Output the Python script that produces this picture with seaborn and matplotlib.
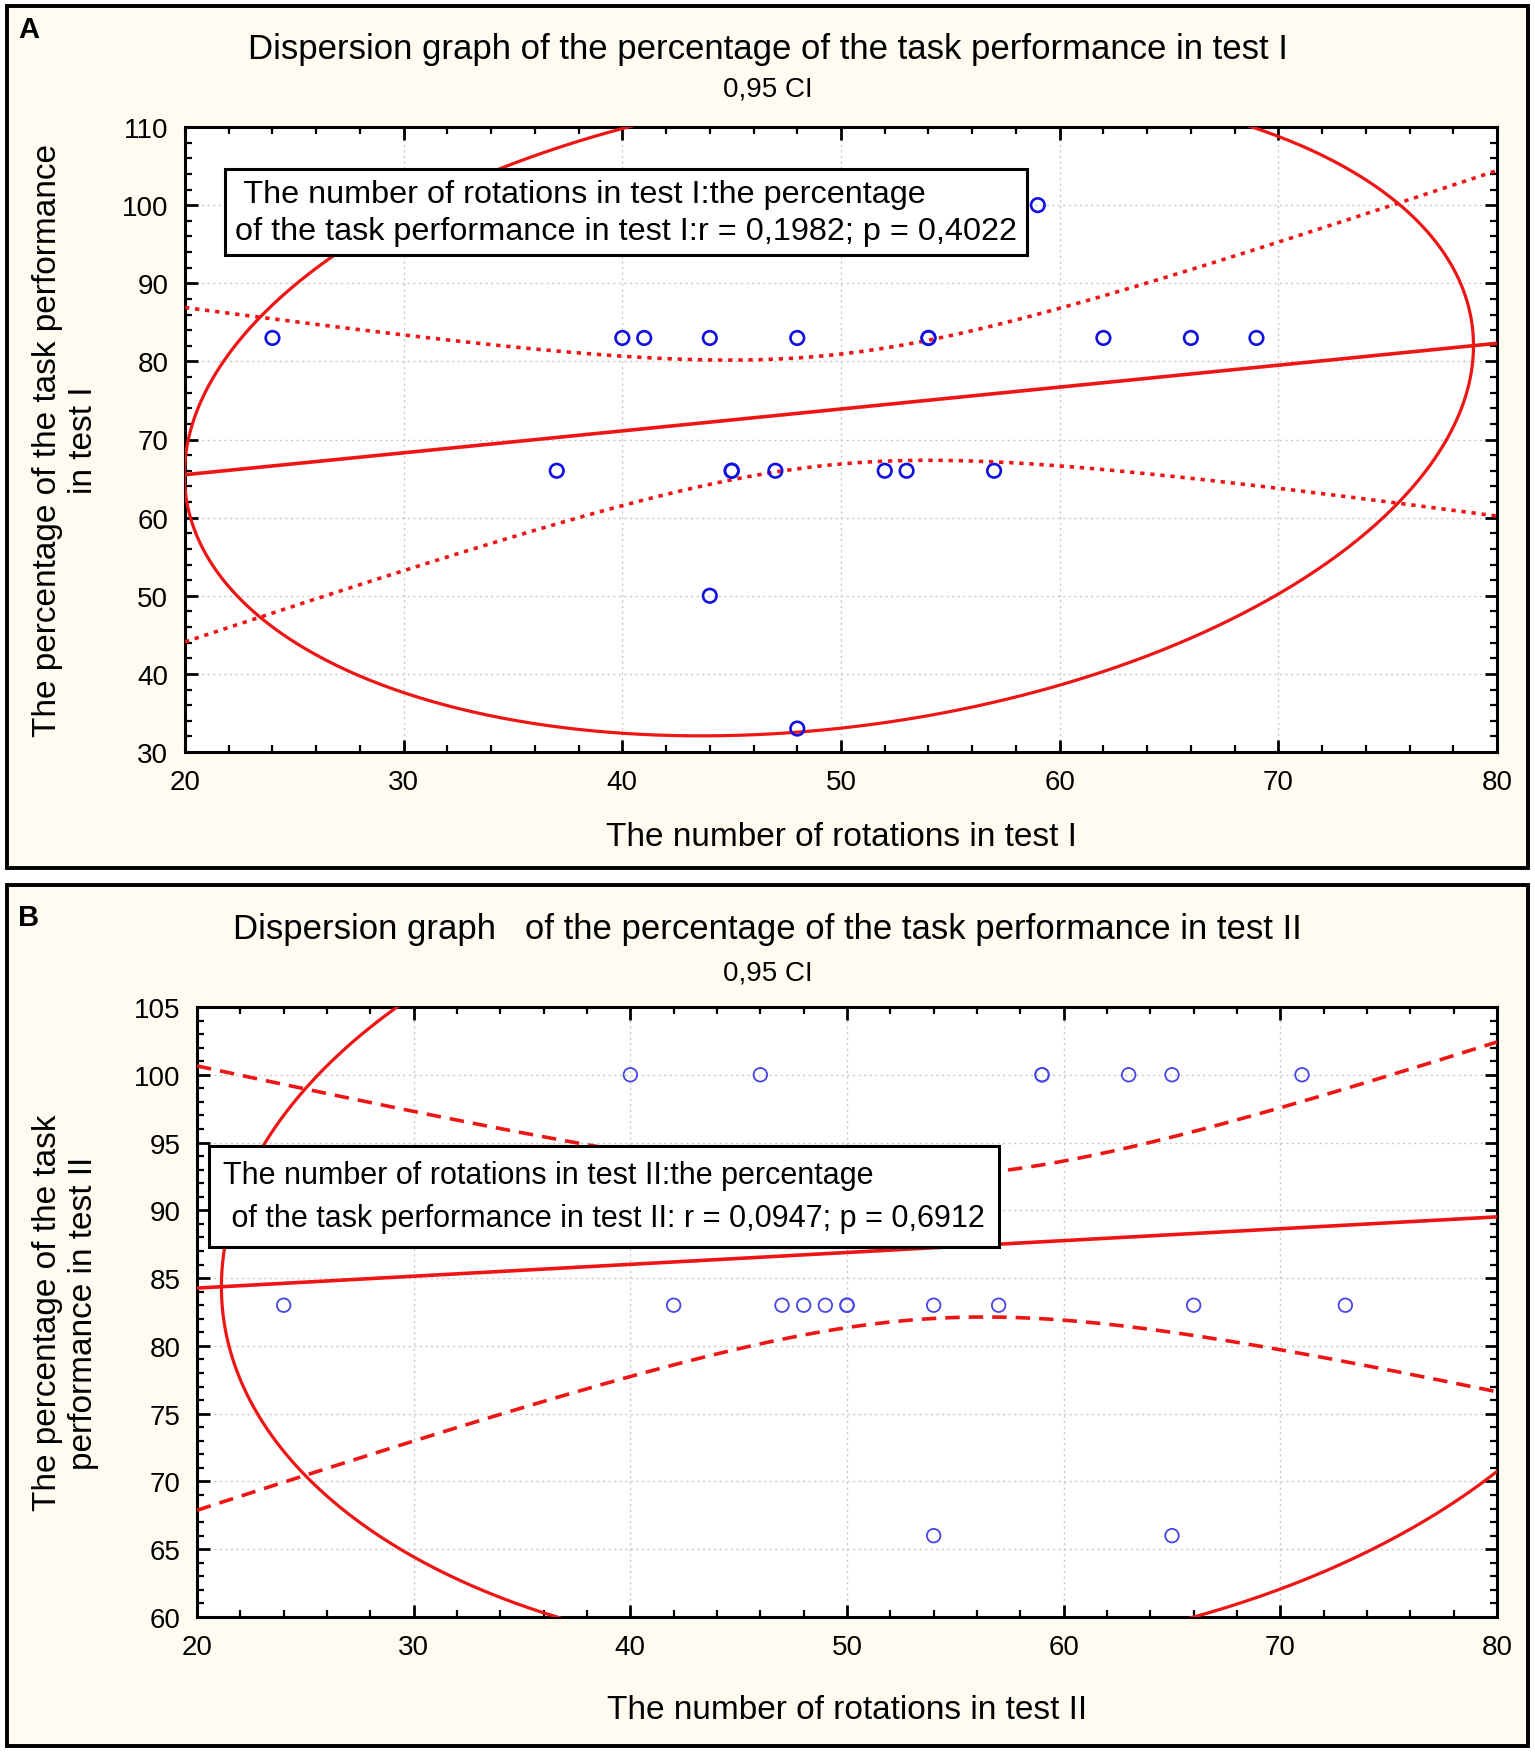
import numpy as np
import pandas as pd
import matplotlib
matplotlib.use("Agg")
import matplotlib.pyplot as plt
from matplotlib.patches import Rectangle
from matplotlib.ticker import MultipleLocator, AutoMinorLocator
import seaborn as sns

# ---------------- data ----------------
# Panel A: test I
rot_test1 = [24, 37, 40, 41, 44, 44, 45, 45, 47, 48, 48, 52, 53, 54, 54, 57, 59, 62, 66, 69]
perf_test1 = [83, 66, 83, 83, 83, 50, 66, 66, 66, 83,
              33, 66, 66, 83, 83, 66, 100, 83, 83, 83]
# Panel B: test II
rot_test2 = [24, 40, 42, 46, 47, 48, 49, 50, 50, 54, 54, 57, 59, 59, 63, 65, 65, 66, 71, 73]
perf_test2 = [83, 100, 83, 100, 83, 83, 83, 83, 83, 83,
              66, 83, 100, 100, 100, 100, 66, 83, 100, 83]

titles = ["Dispersion graph of the percentage of the task performance in test I",
          "Dispersion graph   of the percentage of the task performance in test II"]
subtitle = "0,95 CI"
xlabels = ["The number of rotations in test I", "The number of rotations in test II"]
ylabels = ["The percentage of the task performance\nin test I",
           "The percentage of the task\nperformance in test II"]
box_texts = [" The number of rotations in test I:the percentage\nof the task performance in test I:r = 0,1982; p = 0,4022",
             "The number of rotations in test II:the percentage\n of the task performance in test II: r = 0,0947; p = 0,6912"]
panel_letters = ["A", "B"]
xlims = (20, 80)
ylims = [(30, 110), (60, 105)]
ysteps = [10, 5]

# ---------------- style ----------------
sns.set_style("ticks")
plt.rcParams['font.family'] = ['Liberation Sans', 'DejaVu Sans']
for k in ["text.color", "axes.labelcolor", "xtick.color", "ytick.color", "axes.edgecolor"]:
    plt.rcParams[k] = "black"

RED = "#EE1515"
BG = "#FEFBF0"
W, H = 1535, 1756
fig = plt.figure(figsize=(W / 100, H / 100), dpi=100, facecolor="white")


def px_box(x0, y0, x1, y1):
    return (x0 / W, 1 - y1 / H, (x1 - x0) / W, (y1 - y0) / H)


# outer panel frames
for (x0, y0, x1, y1) in [(7, 7, 1528, 869), (7, 886, 1528, 1747)]:
    l, b, w, h = px_box(x0, y0, x1, y1)
    fig.patches.append(Rectangle((l, b), w, h, transform=fig.transFigure,
                                 fc=BG, ec="black", lw=2.8, zorder=-10))


def t_ppf(p, df):
    xs = np.linspace(0, 20, 400001)
    from math import gamma, sqrt, pi
    c = gamma((df + 1) / 2) / (sqrt(df * pi) * gamma(df / 2))
    pdf = c * (1 + xs ** 2 / df) ** (-(df + 1) / 2)
    cdf = 0.5 + np.concatenate([[0], np.cumsum((pdf[1:] + pdf[:-1]) / 2 * np.diff(xs))])
    return float(np.interp(p, cdf, xs))


def draw_panel(ax, xv, yv, ylim, ystep, band_ls, band_dashes, marker_lw, marker_col):
    df = pd.DataFrame({"x": np.asarray(xv, float), "y": np.asarray(yv, float)})
    n = len(df)
    ax.set_xlim(*xlims)
    ax.set_ylim(*ylim)

    # regression line (seaborn)
    sns.regplot(data=df, x="x", y="y", ax=ax, scatter=False, ci=None, truncate=False,
                line_kws=dict(color=RED, lw=2.6, zorder=3))

    # 95% confidence band of the regression line
    x = df["x"].values
    y = df["y"].values
    mx, my = x.mean(), y.mean()
    sxx = ((x - mx) ** 2).sum()
    sxy = ((x - mx) * (y - my)).sum()
    b1 = sxy / sxx
    b0 = my - b1 * mx
    resid = y - (b0 + b1 * x)
    s = np.sqrt((resid ** 2).sum() / (n - 2))
    tq = t_ppf(0.975, n - 2)
    xs = np.linspace(xlims[0], xlims[1], 400)
    yh = b0 + b1 * xs
    half = tq * s * np.sqrt(1 / n + (xs - mx) ** 2 / sxx)
    for sign in (-1, 1):
        line, = ax.plot(xs, yh + sign * half, color=RED, lw=2.6, ls=band_ls, zorder=3)
        if band_dashes is not None:
            line.set_dashes(band_dashes)

    # 95% prediction ellipse
    cov = np.cov(x, y)
    m = n - 2
    fq = (m / 2) * (0.05 ** (-2 / m) - 1)
    c2 = 2 * (n - 1) * (n + 1) / (n * (n - 2)) * fq
    L = np.linalg.cholesky(cov)
    th = np.linspace(0, 2 * np.pi, 721)
    circ = np.vstack([np.cos(th), np.sin(th)]) * np.sqrt(c2)
    el = L @ circ
    ax.plot(mx + el[0], my + el[1], color=RED, lw=2.3, zorder=3)

    # points
    sns.scatterplot(data=df, x="x", y="y", ax=ax, marker="o", s=95, color=marker_col,
                    zorder=5, legend=False)
    pc = ax.collections[-1]
    pc.set_facecolor("none")
    pc.set_edgecolor(marker_col)
    pc.set_linewidth(marker_lw)

    ax.set_xlim(*xlims)
    ax.set_ylim(*ylim)
    ax.xaxis.set_major_locator(MultipleLocator(10))
    ax.yaxis.set_major_locator(MultipleLocator(ystep))
    ax.xaxis.set_minor_locator(AutoMinorLocator(5))
    ax.yaxis.set_minor_locator(AutoMinorLocator(5))
    ax.tick_params(which="both", direction="in", top=True, right=True, width=2, color="black")
    ax.tick_params(which="major", length=9, labelsize=20, pad=12)
    ax.tick_params(which="minor", length=5, width=1.6)
    ax.grid(True, which="major", color="#C8C8C8", ls=(0, (1.5, 2.5)), lw=1.0)
    ax.set_axisbelow(True)
    for sp in ax.spines.values():
        sp.set_linewidth(2.2)
        sp.set_color("black")
        sp.set_visible(True)
    ax.set_facecolor("white")


axA = fig.add_axes(px_box(185, 128, 1497, 753))
axB = fig.add_axes(px_box(197, 1008, 1497, 1618))

draw_panel(axA, rot_test1, perf_test1, ylims[0], ysteps[0], ":", (1.2, 1.6), 1.9, "#1010E0")
draw_panel(axB, rot_test2, perf_test2, ylims[1], ysteps[1], "--", (4, 2.5), 1.3, "#4646E6")

# labels, titles, boxes
for ax, i, title_y, sub_y, xl_y, yl_x, box_xy, box_fs, box_ls, box_pad, letter_y in [
        (axA, 0, 49, 90, -0.136, -0.091, (0.038, 0.917), 23.3, 1.3, 0.3, 30),
        (axB, 1, 930, 974, -0.151, -0.101, (0.02, 0.749), 22, 1.55, 0.45, 918)]:
    fig.text(0.5, 1 - title_y / H, titles[i], ha="center", va="center", fontsize=25)
    fig.text(0.5, 1 - sub_y / H, subtitle, ha="center", va="center", fontsize=20)
    ax.set_xlabel(xlabels[i], fontsize=24)
    ax.xaxis.label.set_va("center")
    ax.xaxis.set_label_coords(0.5, xl_y)
    ax.set_ylabel(ylabels[i], fontsize=24, linespacing=1.2)
    ax.yaxis.label.set_va("center")
    ax.yaxis.label.set_ha("center")
    ax.yaxis.set_label_coords(yl_x, 0.5)
    ax.text(box_xy[0], box_xy[1], box_texts[i], transform=ax.transAxes, ha="left", va="top",
            fontsize=box_fs, linespacing=box_ls, zorder=10,
            bbox=dict(boxstyle=f"square,pad={box_pad}", fc="white", ec="black", lw=2.2))
    fig.text(29 / W, 1 - letter_y / H, panel_letters[i], ha="center", va="center",
             fontsize=21, fontweight="bold")

fig.savefig("out.png", dpi=100, facecolor="white")
